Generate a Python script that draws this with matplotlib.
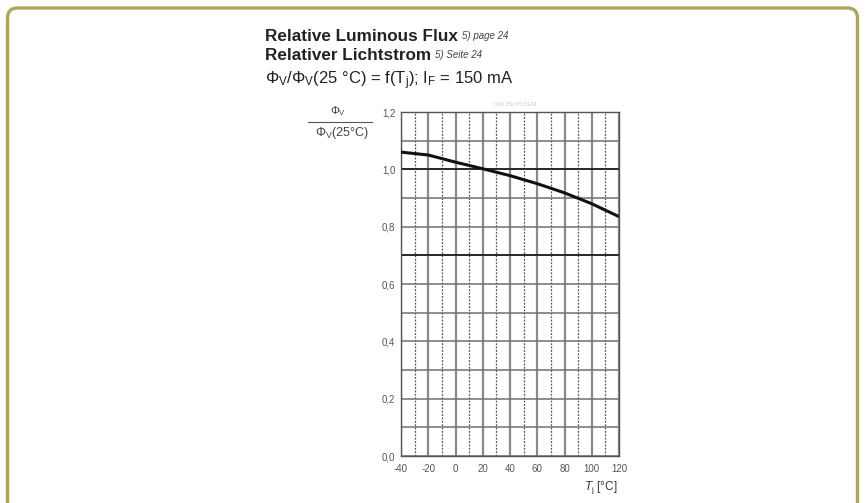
import matplotlib
matplotlib.use("Agg")
import matplotlib.pyplot as plt
from matplotlib.patches import FancyBboxPatch
from matplotlib.ticker import MultipleLocator, FuncFormatter

plt.rcParams['font.family'] = ['Liberation Sans', 'DejaVu Sans']
plt.rcParams['mathtext.fontset'] = 'custom'
plt.rcParams['mathtext.rm'] = 'Liberation Sans'
plt.rcParams['mathtext.it'] = 'Liberation Sans:italic'
plt.rcParams['axes.unicode_minus'] = False

# relative luminous flux vs junction temperature
temp_c = [-40, -20, 0, 20, 40, 60, 80, 100, 120]
rel_flux = [1.060, 1.050, 1.025, 1.002, 0.978, 0.950, 0.918, 0.880, 0.835]

x_ticks = [-40, -20, 0, 20, 40, 60, 80, 100, 120]
y_ticks = [0.0, 0.2, 0.4, 0.6, 0.8, 1.0, 1.2]
dark_levels = [0.7, 1.0]

W, H = 865, 503
fig = plt.figure(figsize=(W / 100, H / 100), dpi=100)

# rounded frame around the whole card
frame = FancyBboxPatch((0.075, -0.3), 8.5, 5.25,
                       boxstyle="round,pad=0,rounding_size=0.1",
                       transform=fig.dpi_scale_trans, zorder=-1,
                       facecolor='white', edgecolor='#ada55c', linewidth=2.4)
fig.patches.append(frame)

ax = fig.add_axes([401 / W, 1 - 456 / H, 218 / W, 344 / H])
ax.set_facecolor('none')
ax.plot(temp_c, rel_flux, color='#111111', lw=2.2, zorder=5,
        solid_capstyle='butt')

ax.set_xlim(-40, 120)
ax.set_ylim(0, 1.2)
ax.set_xticks(x_ticks)
ax.set_yticks(y_ticks)
ax.xaxis.set_minor_locator(MultipleLocator(10))
ax.yaxis.set_minor_locator(MultipleLocator(0.1))
ax.yaxis.set_major_formatter(FuncFormatter(lambda v, p: f"{v:.1f}".replace('.', ',')))

ax.grid(axis='y', which='both', color='#707070', lw=1.1)
ax.grid(axis='x', which='major', color='#8a8a8a', lw=1.6)
ax.grid(axis='x', which='minor', color='#555555', lw=0.9, linestyle=(0, (1.5, 1.2)))
for lvl in dark_levels:
    ax.axhline(lvl, color='#222222', lw=1.3, zorder=2)
ax.set_axisbelow(True)

for s in ax.spines.values():
    s.set_color('#555555')
    s.set_linewidth(1.0)
ax.tick_params(which='both', length=0, labelsize=7, labelcolor='#555555')
ax.tick_params(axis='x', pad=6)
ax.tick_params(axis='y', pad=4)

# headings, each followed by its footnote reference
head1 = fig.text(265 / W, 1 - 37 / H, "Relative Luminous Flux", fontsize=12.3,
                 fontweight='bold', color='#222222', va='center')
head2 = fig.text(265 / W, 1 - 56 / H, "Relativer Lichtstrom", fontsize=12.3,
                 fontweight='bold', color='#222222', va='center')
for head, note in [(head1, "5) page 24"), (head2, "5) Seite 24")]:
    fig.add_artist(matplotlib.text.Annotation(
        note, xy=(1, 1), xycoords=head, xytext=(3, -1),
        textcoords='offset points', fontsize=7, style='italic',
        color='#444444', va='top', ha='left'))

fig.text(265 / W, 1 - 81 / H,
         r"$\Phi_\mathrm{V}/\Phi_\mathrm{V}$(25 °C) = f(T$_\mathrm{j}$); I$_\mathrm{F}$ = 150 mA",
         fontsize=12, color='#222222', va='center')

# y-axis label as a fraction
fig.text(338 / W, 1 - 111 / H, r"$\Phi_\mathrm{V}$", fontsize=8,
         color='#444444', ha='center', va='center')
fig.add_artist(plt.Line2D([308 / W, 372 / W], [1 - 122 / H, 1 - 122 / H],
                          color='#555555', lw=0.8))
fig.text(342 / W, 1 - 133 / H, r"$\Phi_\mathrm{V}$(25°C)", fontsize=9,
         color='#444444', ha='center', va='center')

fig.text(601 / W, 1 - 488 / H, r"$T_\mathrm{j}$ [°C]", fontsize=8.5,
         color='#333333', ha='center', va='center')

fig.text(515 / W, 1 - 105 / H, "OW JSLP01EM", fontsize=4.5,
         color='#cccccc', ha='center', va='center')

fig.savefig("out.png", dpi=100)
